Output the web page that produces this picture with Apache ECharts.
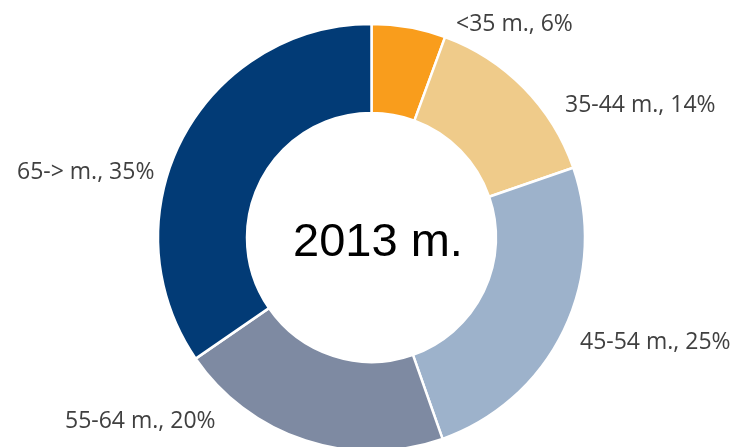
<!DOCTYPE html>
<html><head><meta charset="utf-8">
<script src="https://cdn.jsdelivr.net/npm/echarts@6/dist/echarts.min.js"></script>
<style>html,body{margin:0;padding:0;background:#fff}#c{width:740px;height:447px}</style>
</head><body><div id="c"></div>
<script>
const categories = ['<35 m.', '35-44 m.', '45-54 m.', '55-64 m.', '65-> m.'];
const values = [5.6, 14.1, 24.9, 20.8, 34.6];
const percentLabels = ['6%', '14%', '25%', '20%', '35%'];
const colors = ['#F99D1C', '#EFCB8A', '#9DB2CB', '#7E8AA2', '#023B76'];
const centerTitle = '2013 m.';
const labelPos = [[456, 24], [565, 105], [580, 342], [65, 421], [17, 172]];

const chart = echarts.init(document.getElementById('c'));
chart.setOption({
  backgroundColor: '#fff',
  animation: false,
  title: {
    text: centerTitle, left: 373, top: 238, textAlign: 'center', textVerticalAlign: 'middle',
    textStyle: { fontFamily: 'Liberation Sans', fontSize: 47, fontWeight: 'normal', color: '#000' }
  },
  series: [{
    type: 'pie',
    center: [371.5, 237.5],
    radius: [124.5, 213.5],
    startAngle: 90,
    clockwise: true,
    itemStyle: { borderColor: '#fff', borderWidth: 2.5 },
    labelLine: { show: false },
    label: {
      show: true, position: 'outside', overflow: 'none', width: 300,
      fontFamily: 'Open Sans', fontSize: 23, color: '#404040',
      formatter: p => categories[p.dataIndex] + ', ' + percentLabels[p.dataIndex]
    },
    labelLayout: p => ({ x: labelPos[p.dataIndex][0], y: labelPos[p.dataIndex][1], align: 'left', verticalAlign: 'middle' }),
    emphasis: { disabled: true },
    data: categories.map((c, i) => ({ name: c, value: values[i], itemStyle: { color: colors[i] } }))
  }]
});
</script></body></html>
